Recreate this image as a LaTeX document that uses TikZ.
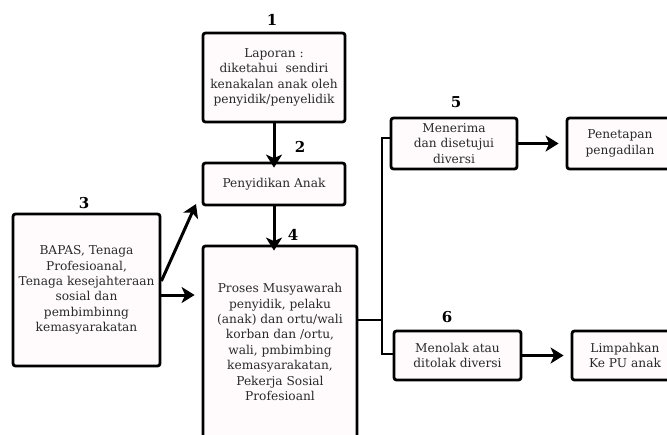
\documentclass[tikz,border=0pt]{standalone}
\usepackage{fontspec}
\setmainfont{DejaVu Serif}
\usetikzlibrary{arrows.meta}
\definecolor{boxfill}{HTML}{FFFBFC}
\definecolor{txt}{HTML}{2A2A2A}
\begin{document}
\begin{tikzpicture}[x=1pt,y=-1pt,
  box/.style={draw=black,line width=2.8pt,rounded corners=2.5pt,fill=boxfill,
    align=center,inner sep=0pt,text=txt,font=\fontsize{12.2}{15.4}\selectfont},
  num/.style={font=\bfseries\fontsize{15}{16}\selectfont,text=black,inner sep=0pt},
  arr/.style={line width=3pt,-{Stealth[length=13pt,width=16pt,inset=3.5pt]}},
  conn/.style={line width=2pt}]
\useasboundingbox (0,0) rectangle (667,434);
\begin{scope}
\clip (0,0) rectangle (667,434);
\node[box,minimum width=142pt,minimum height=89pt] (b1) at (274,77.5)
  {Laporan :\\ diketahui\ \ sendiri\\kenakalan anak oleh\\penyidik/penyelidik};
\node[box,minimum width=142pt,minimum height=42pt] (b2) at (274,184) {Penyidikan Anak};
\node[box,minimum width=147pt,minimum height=152pt] (b3) at (86.5,290)
  {BAPAS, Tenaga\\Profesioanal,\\Tenaga kesejahteraan\\sosial dan\\pembimbinng\\kemasyarakatan};
\node[box,minimum width=154pt,minimum height=192pt] (b4) at (280,342)
  {Proses Musyawarah\\penyidik, pelaku\\(anak) dan ortu/wali\\korban dan /ortu,\\wali, pmbimbing\\kemasyarakatan,\\Pekerja Sosial\\Profesioanl};
\node[box,minimum width=126pt,minimum height=51pt] (b5) at (454,143.5)
  {Menerima\\dan disetujui\\diversi};
\node[box,minimum width=106pt,minimum height=51pt] (b7) at (620,143.5)
  {Penetapan\\pengadilan};
\node[box,minimum width=127pt,minimum height=49pt] (b6) at (457.5,355.5)
  {Menolak atau\\ditolak diversi};
\node[box,minimum width=106pt,minimum height=49pt] (b8) at (625,355.5)
  {Limpahkan\\Ke PU anak};
\end{scope}
\node[num] (n1) at (272,20) {1};
\node[num] (n2) at (300,147) {2};
\node[num] (n3) at (84,203) {3};
\node[num] (n4) at (293,235) {4};
\node[num] (n5) at (456,102) {5};
\node[num] (n6) at (447,317) {6};
\coordinate (d1) at (196,204);
\coordinate (jt) at (382,138);
\coordinate (jb) at (382,354);
\draw[arr] (b1.south) -- ([yshift=-6pt]b2.north);
\draw[arr] (b2.south) -- ([yshift=-6pt]b2.south |- b4.north);
\draw[arr] (b3.east |- 0,281) -- (d1);
\draw[arr] (b3.east |- 0,295) -- ([xshift=-7pt]b4.west |- 0,295);
\draw[arr] (b5.east) -- ([xshift=-7pt]b7.west);
\draw[arr] (b6.east) -- ([xshift=-7pt]b8.west);
\draw[conn] (b4.east |- 0,320) -- (jt |- 0,320);
\draw[conn] (b5.west |- jt) -- (jt) -- (jb) -- (b6.west |- jb);
\end{tikzpicture}
\end{document}
